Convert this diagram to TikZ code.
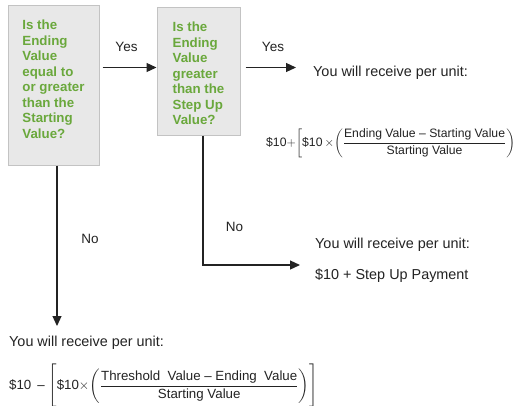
\documentclass[tikz,border=0pt]{standalone}
\usepackage{fix-cm}
\usepackage{amsmath}
\usepackage{fontspec}
\setmainfont{Liberation Sans}
\usetikzlibrary{arrows.meta}
\definecolor{boxfill}{RGB}{232,232,232}
\definecolor{boxline}{RGB}{195,195,195}
\definecolor{qgreen}{RGB}{106,168,60}
\definecolor{ink}{RGB}{35,35,35}
\begin{document}
\begin{tikzpicture}[x=1pt,y=-1pt,
  box/.style={draw=boxline, line width=1pt, fill=boxfill, inner sep=0pt},
  qtext/.style={align=left, text=qgreen, inner sep=0pt, font=\fontsize{13.3}{15.5}\selectfont\bfseries},
  arr/.style={draw=ink, line width=1.2pt, -{Triangle[length=10pt,width=9pt]}},
  lbl/.style={text=ink, inner sep=0pt, font=\fontsize{13.5}{16}\selectfont},
  txt/.style={text=ink, inner sep=0pt, anchor=west, font=\fontsize{14.4}{17}\selectfont},
]
\useasboundingbox (0,0) rectangle (516,405);
\clip (0,0) rectangle (516,405);
\fill[white] (0,0) rectangle (516,405);

% decision boxes
\node[box, minimum width=91pt, minimum height=160pt] (q1) at (53.5,85) {};
\node[qtext] (q1t) at (q1.center) [yshift=6pt] {Is the\\Ending\\Value\\equal to\\or greater\\than the\\Starting\\Value?};
\node[box, minimum width=83pt, minimum height=128pt] (q2) at (198.5,71) {};
\node[qtext] (q2t) at (q2.center) [yshift=-2.5pt] {Is the\\Ending\\Value\\greater\\than the\\Step Up\\Value?};

% texts
\node[txt] (t1) at (313,73) {You will receive per unit:};
\node[txt, font=\fontsize{12.2}{14}\selectfont] (f1) at (266,143)
  {$\text{\$10}{+}\!\left[\text{\$10\,}{\times}\!\left(\dfrac{\text{Ending Value – Starting Value}}{\text{Starting Value}}\right)\right.$};
\node[txt] (t2) at (315,245) {You will receive per unit:};
\node[txt] (t3) at (315,276) {\$10 + Step Up Payment};
\node[txt] (t4) at (9,343) {You will receive per unit:};
\node[txt, font=\fontsize{13.3}{15}\selectfont] (f2) at (9,386)
  {$\text{\$10\ \,–\ }\!\left[\vphantom{\rule[-18pt]{0pt}{42pt}}\text{\$10}{\times}\!\left(\dfrac{\text{Threshold\ \ Value – Ending\ \ Value}}{\text{Starting Value}}\right)\right]$};

% labels
\node[lbl] (yes1) at (126.5,47) {Yes};
\node[lbl] (yes2) at (273,47) {Yes};
\node[lbl] (no1) at (90,239) {No};
\node[lbl] (no2) at (234.5,227) {No};

% connectors
\coordinate (ylev) at (0,67.5);
\coordinate (yes2end) at (296,67.5);
\coordinate (no2end) at (300,265);
\coordinate (no1end) at (57,326);
\draw[arr, shorten <=3pt] (q1.east |- ylev) -- (q2.west |- ylev);
\draw[arr, shorten <=5pt] (q2.east |- ylev) -- (yes2end);
\draw[arr] ([xshift=4.5pt]q2.south) |- (no2end);
\draw[arr] ([xshift=3.5pt]q1.south) -- (no1end);
\end{tikzpicture}
\end{document}
